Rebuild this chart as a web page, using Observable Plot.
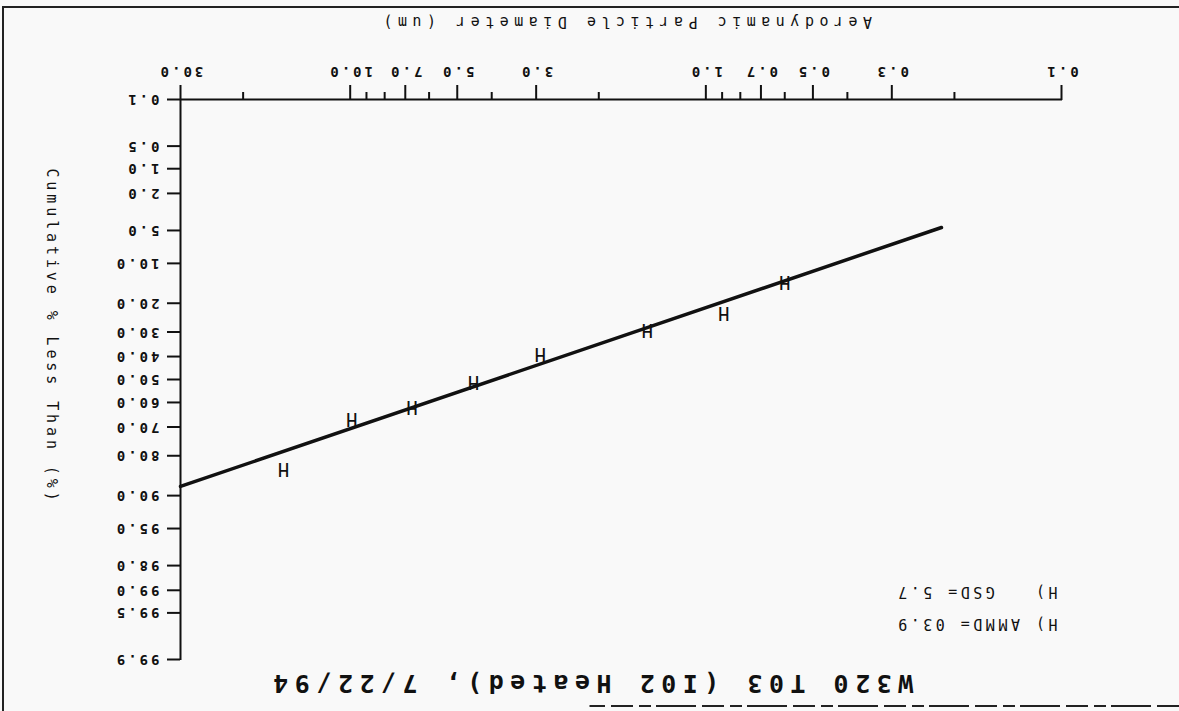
<!DOCTYPE html>
<html>
<head>
<meta charset="utf-8">
<script src="https://cdn.jsdelivr.net/npm/d3@7"></script>
<script src="https://cdn.jsdelivr.net/npm/@observablehq/plot@0.6"></script>
<style>
  html, body { margin: 0; padding: 0; background: #f9f9f9; overflow: hidden; }
  #page { position: absolute; left: 0; top: 0; width: 1179px; height: 711px; overflow: hidden; }
  #page svg { display: block; }
  svg text { white-space: pre; }
</style>
</head>
<body>
<div id="page"></div>
<script>
// ---- data ----
const sizes  = [15.4, 9.9, 6.7, 4.5, 2.92, 1.46, 0.89, 0.60];      // aerodynamic diameter (um)
const cumPct = [83.9, 67.0, 62.1, 51.3, 39.1, 29.1, 23.3, 14.0];   // cumulative % less than
const fitSize = [30, 0.2175];                                      // fitted line end points
const fitPct  = [88.1, 4.67];
const xMajorTicks = [0.1, 0.3, 0.5, 0.7, 1, 3, 5, 7, 10, 30];
const xMajorLabels = ["0.1", "0.3", "0.5", "0.7", "1.0", "3.0", "5.0", "7.0", "10.0", "30.0"];
const xMinorTicks = [0.2, 0.4, 0.6, 0.8, 0.9, 2, 4, 6, 8, 9, 20];
const yTicks = [0.1, 0.5, 1, 2, 5, 10, 20, 30, 40, 50, 60, 70, 80, 90, 95, 98, 99, 99.5, 99.9];
const yLabels = ["0.1", "0.5", "1.0", "2.0", "5.0", "10.0", "20.0", "30.0", "40.0", "50.0",
                 "60.0", "70.0", "80.0", "90.0", "95.0", "98.0", "99.0", "99.5", "99.9"];
const titleText = "W320 T03 (I02 Heated), 7/22/94";
const xTitle = "Aerodynamic Particle Diameter (um)";
const yTitle = "Cumulative % Less Than (%)";
const legendAMMD = "H) AMMD= 03.9";
const legendGSD = "H)   GSD= 5.7";
const xLimits = [0.1, 30];
const pctLimits = [0.1, 99.9];

// inverse normal CDF (probability-scale transform)
function probit(p) {
  const a = [-3.969683028665376e+01, 2.209460984245205e+02, -2.759285104469687e+02, 1.383577518672690e+02, -3.066479806614716e+01, 2.506628277459239e+00];
  const b = [-5.447609879822406e+01, 1.615858368580409e+02, -1.556989798598866e+02, 6.680131188771972e+01, -1.328068155288572e+01];
  const c = [-7.784894002430293e-03, -3.223964580411365e-01, -2.400758277161838e+00, -2.549732539343734e+00, 4.374664141464968e+00, 2.938163982698783e+00];
  const d = [7.784695709041462e-03, 3.224671290700398e-01, 2.445134137142996e+00, 3.754408661907416e+00];
  const pl = 0.02425, ph = 1 - pl;
  let q, r;
  if (p < pl) { q = Math.sqrt(-2 * Math.log(p)); return (((((c[0]*q+c[1])*q+c[2])*q+c[3])*q+c[4])*q+c[5]) / ((((d[0]*q+d[1])*q+d[2])*q+d[3])*q+1); }
  if (p > ph) { q = Math.sqrt(-2 * Math.log(1 - p)); return -(((((c[0]*q+c[1])*q+c[2])*q+c[3])*q+c[4])*q+c[5]) / ((((d[0]*q+d[1])*q+d[2])*q+d[3])*q+1); }
  q = p - 0.5; r = q * q;
  return (((((a[0]*r+a[1])*r+a[2])*r+a[3])*r+a[4])*r+a[5])*q / (((((b[0]*r+b[1])*r+b[2])*r+b[3])*r+b[4])*r+1);
}
const z = pct => probit(pct / 100);

const points = sizes.map((s, i) => ({size: s, pct: cumPct[i]}));
const fit = fitSize.map((s, i) => ({size: s, pct: fitPct[i]}));
const xTickData = xMajorTicks.map((t, i) => ({t, label: xMajorLabels[i]}));
const yZ = yTicks.map(z);
const yLab = new Map(yZ.map((t, i) => [t, yLabels[i]]));

const ink = "#111";
const mono = "DejaVu Sans Mono";
const W = 1179, H = 711;

const chart = Plot.plot({
  width: W, height: H,
  marginLeft: 117, marginRight: 181, marginTop: 51, marginBottom: 100,
  style: {background: "#f9f9f9", fontFamily: mono, color: ink, overflow: "hidden"},
  x: {type: "log", domain: xLimits},
  y: {type: "linear", domain: pctLimits.map(z)},
  marks: [
    Plot.ruleY([pctLimits[0]], {y: z, stroke: ink, strokeWidth: 2}),
    Plot.ruleX([xLimits[1]], {stroke: ink, strokeWidth: 2}),
    Plot.axisX({ticks: xMinorTicks, tickSize: 8, tickFormat: () => "", label: null, strokeWidth: 2, stroke: ink}),
    Plot.axisX({ticks: xMajorTicks, tickSize: 15, tickFormat: () => "", label: null, strokeWidth: 2, stroke: ink}),
    Plot.text(xTickData, {x: "t", text: "label", frameAnchor: "bottom", lineAnchor: "middle", dy: 28,
                fill: ink, fontSize: 14, fontFamily: mono, fontWeight: "bold"}),
    Plot.axisY({anchor: "right", ticks: yZ, tickSize: 13, tickPadding: 8, tickFormat: d => yLab.get(d), label: null,
                strokeWidth: 2, stroke: ink, fill: ink, fontSize: 14, fontFamily: mono, fontWeight: "bold"}),
    Plot.line(fit, {x: "size", y: d => z(d.pct), stroke: ink, strokeWidth: 3.5}),
    Plot.text(points, {x: "size", y: d => z(d.pct), text: () => "H", fontSize: 19, fontFamily: mono, fill: ink, lineAnchor: "middle"}),
    Plot.text([titleText], {frameAnchor: "top", lineAnchor: "middle", dx: 31, dy: -23, fontSize: 25, fontWeight: "bold", fontFamily: mono, fill: ink}),
    Plot.text([xTitle], {frameAnchor: "bottom", lineAnchor: "middle", dx: -4, dy: 78, fontSize: 15, fontFamily: mono, fill: ink}),
    Plot.text([yTitle], {frameAnchor: "right", textAnchor: "middle", lineAnchor: "middle", dx: 129, dy: 43, rotate: -90, fontSize: 15, fontFamily: mono, fill: ink}),
    Plot.text([legendAMMD], {frameAnchor: "top-left", textAnchor: "start", lineAnchor: "middle", dx: 4, dy: 36, fontSize: 15, fontFamily: mono, fill: ink}),
    Plot.text([legendGSD], {frameAnchor: "top-left", textAnchor: "start", lineAnchor: "middle", dx: 4, dy: 68, fontSize: 15, fontFamily: mono, fill: ink})
  ]
});

// plotter-style wide character spacing
const spacing = new Map([[titleText, 6.5], [xTitle, 5.5], [yTitle, 3.9], [legendAMMD, 3.5], [legendGSD, 3.5]]);
const tickSet = new Set([...xMajorLabels, ...yLabels]);
d3.select(chart).selectAll("text").each(function() {
  const t = this.textContent;
  if (spacing.has(t)) this.setAttribute("letter-spacing", spacing.get(t));
  else if (tickSet.has(t)) this.setAttribute("letter-spacing", 3);
});

// scanned page border (decoration)
const svg = d3.select(chart);
const deco = svg.append("g").attr("stroke", "#222").attr("fill", "none");
deco.append("path").attr("stroke-width", 2).attr("d", `M0,${H - 7}H${W - 3}V0`);
deco.append("path").attr("stroke-width", 2).attr("stroke-dasharray", "22,6,40,5,12,6").attr("d", `M0,5H${W / 2}`);

// the scanned page is upside down: turn every drawn element 180 degrees
const turned = svg.append("g").attr("transform", `rotate(180 ${W / 2} ${H / 2})`);
Array.from(chart.childNodes).forEach(n => {
  if (n !== turned.node() && n.nodeName !== "style") turned.node().appendChild(n);
});

document.getElementById("page").appendChild(chart);
</script>
</body>
</html>
